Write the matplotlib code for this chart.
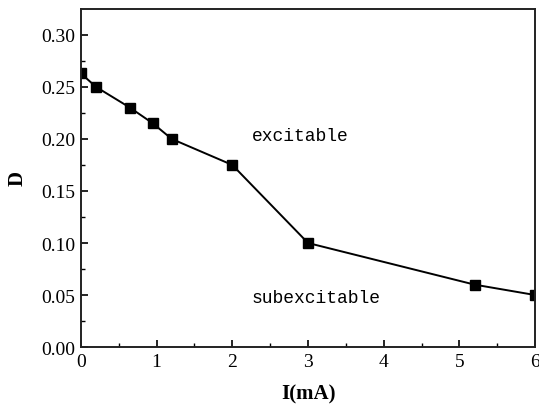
import matplotlib
matplotlib.use('Agg')
import matplotlib.pyplot as plt

# Data
current = [0, 0.2, 0.65, 0.95, 1.2, 2.0, 3.0, 5.2, 6.0]
d_values = [0.263, 0.25, 0.23, 0.215, 0.2, 0.175, 0.1, 0.06, 0.05]
x_ticks = [0, 1, 2, 3, 4, 5, 6]
y_ticks = [0.00, 0.05, 0.10, 0.15, 0.20, 0.25, 0.30]

plt.rcParams['font.family'] = ['Liberation Serif', 'DejaVu Serif']

fig = plt.figure(figsize=(5.39, 4.10), dpi=100)
ax = fig.add_axes([0.150, 0.151, 0.843, 0.825])

ax.plot(current, d_values, color='black', lw=1.4, marker='s', ms=7,
        markerfacecolor='black', clip_on=True)

ax.set_xlim(0, 6)
ax.set_ylim(0, 0.325)
ax.set_xticks(x_ticks)
ax.set_xticks([0.5, 1.5, 2.5, 3.5, 4.5, 5.5], minor=True)
ax.set_yticks(y_ticks)
ax.set_yticks([0.025, 0.075, 0.125, 0.175, 0.225, 0.275], minor=True)
ax.set_yticklabels(['%.2f' % v for v in y_ticks])
ax.tick_params(direction='in', which='major', length=5, width=1.2, labelsize=14, pad=4)
ax.tick_params(direction='in', which='minor', length=3, width=1.0)
ax.tick_params(top=False, right=False)
for s in ax.spines.values():
    s.set_linewidth(1.4)
    s.set_color('#222222')

ax.set_xlabel('I(mA)', fontsize=15, fontweight='bold', labelpad=10)
ax.set_ylabel('D', fontsize=15, fontweight='bold', labelpad=10)

mono = ['Liberation Mono', 'DejaVu Sans Mono']
ax.text(2.26, 0.203, 'excitable', fontsize=13, family=mono, va='center')
ax.text(2.26, 0.048, 'subexcitable', fontsize=13, family=mono, va='center')

fig.savefig('out.png', dpi=100)
